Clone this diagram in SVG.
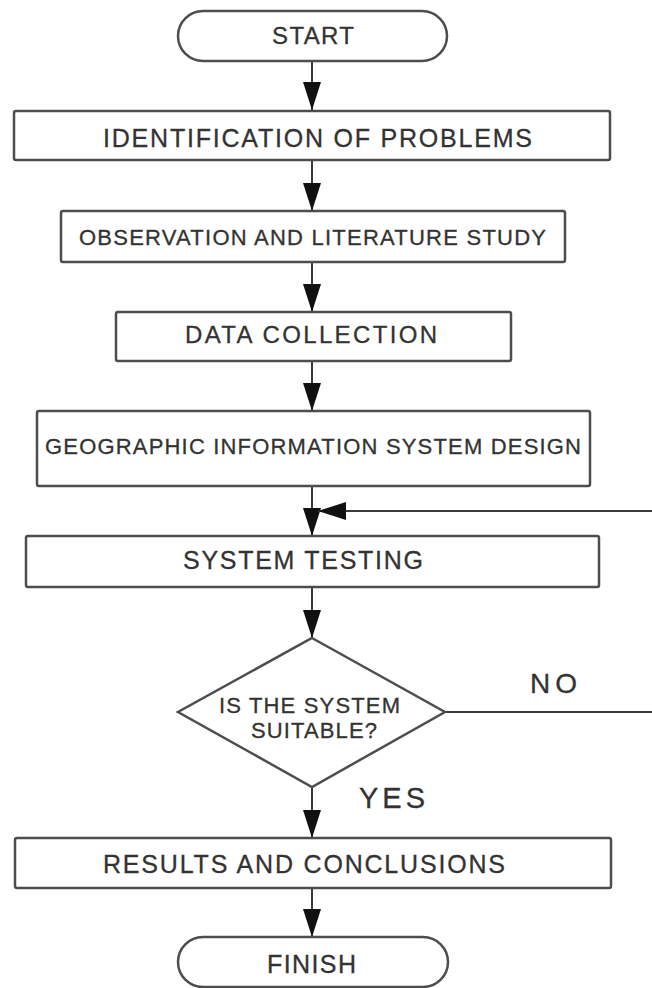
<svg xmlns="http://www.w3.org/2000/svg" width="652" height="988" viewBox="0 0 652 988">
  <style>
    .shape { fill: #ffffff; stroke: #4d4d4d; stroke-width: 2.5; }
    .conn { fill: none; stroke: #3a3a3a; stroke-width: 2; }
    .t { font-family: "Liberation Sans", Arial, sans-serif; fill: #333333; stroke: #333333; stroke-width: 0.3; }
  </style>
  <defs>
    <marker id="arr" markerUnits="userSpaceOnUse" markerWidth="28" markerHeight="18" refX="28" refY="9" orient="auto">
      <path d="M0,0 L28,9 L0,18 Z" fill="#111111"/>
    </marker>
  </defs>
  <rect x="0" y="0" width="652" height="988" fill="#ffffff"/>

  <g id="connectors">
    <line class="conn" x1="312" y1="61" x2="312" y2="110" marker-end="url(#arr)"/>
    <line class="conn" x1="312" y1="160" x2="312" y2="211" marker-end="url(#arr)"/>
    <line class="conn" x1="312" y1="262" x2="312" y2="312" marker-end="url(#arr)"/>
    <line class="conn" x1="312" y1="361" x2="312" y2="411" marker-end="url(#arr)"/>
    <line class="conn" x1="312" y1="486" x2="312" y2="536" marker-end="url(#arr)"/>
    <line class="conn" x1="312" y1="587" x2="312" y2="638" marker-end="url(#arr)"/>
    <line class="conn" x1="312" y1="787" x2="312" y2="838" marker-end="url(#arr)"/>
    <line class="conn" x1="312" y1="888" x2="312" y2="937" marker-end="url(#arr)"/>
    <path class="conn" d="M445,712 H662 V511 H318" marker-end="url(#arr)"/>
    <text class="t" x="530" y="693" font-size="28" textLength="47">NO</text>
    <text class="t" x="359" y="808" font-size="29" textLength="66">YES</text>
  </g>

  <g id="start">
    <rect class="shape" x="178" y="11" width="269" height="50" rx="25"/>
    <text class="t" x="272" y="44" font-size="24" textLength="82">START</text>
  </g>
  <g id="identification">
    <rect class="shape" x="14" y="111" width="596" height="49" rx="2"/>
    <text class="t" x="103" y="147" font-size="25" textLength="429">IDENTIFICATION OF PROBLEMS</text>
  </g>
  <g id="observation">
    <rect class="shape" x="61" y="211" width="504" height="51" rx="2"/>
    <text class="t" x="79" y="245" font-size="22" textLength="467">OBSERVATION AND LITERATURE STUDY</text>
  </g>
  <g id="data-collection">
    <rect class="shape" x="116" y="312" width="395" height="49" rx="2"/>
    <text class="t" x="185" y="343" font-size="24" textLength="252">DATA COLLECTION</text>
  </g>
  <g id="gis-design">
    <rect class="shape" x="37" y="411" width="553" height="75" rx="2"/>
    <text class="t" x="45" y="454" font-size="22" textLength="536">GEOGRAPHIC INFORMATION SYSTEM DESIGN</text>
  </g>
  <g id="system-testing">
    <rect class="shape" x="26" y="536" width="573" height="51" rx="2"/>
    <text class="t" x="183" y="569" font-size="25" textLength="240">SYSTEM TESTING</text>
  </g>
  <g id="decision">
    <polygon class="shape" points="312,638 445,712 312,787 178,712"/>
    <text class="t" x="219" y="713" font-size="22" textLength="181">IS THE SYSTEM</text>
    <text class="t" x="251" y="738" font-size="22" textLength="126">SUITABLE?</text>
  </g>
  <g id="results">
    <rect class="shape" x="15" y="838" width="596" height="50" rx="2"/>
    <text class="t" x="103" y="873" font-size="25" textLength="402">RESULTS AND CONCLUSIONS</text>
  </g>
  <g id="finish">
    <rect class="shape" x="178" y="937" width="270" height="50" rx="25"/>
    <text class="t" x="267" y="973" font-size="25" textLength="89">FINISH</text>
  </g>
</svg>
